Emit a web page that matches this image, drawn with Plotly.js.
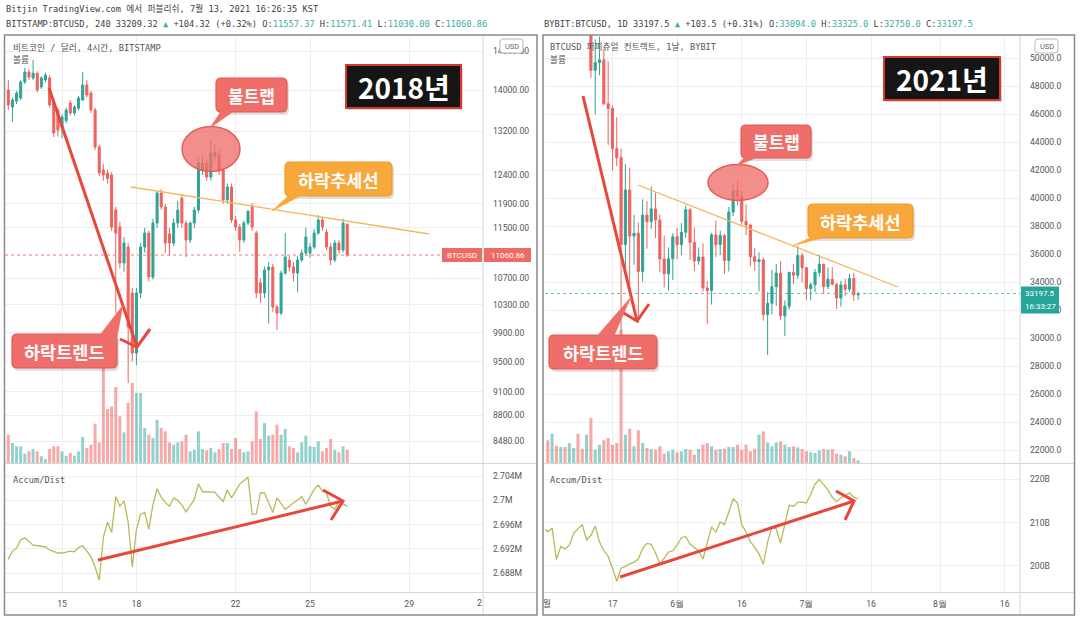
<!DOCTYPE html>
<html><head><meta charset="utf-8">
<script src="https://cdn.plot.ly/plotly-3.0.1.min.js"></script>
<style>html,body{margin:0;padding:0;background:#fff;}#chart{width:1080px;height:622px;}</style>
</head><body><div id="chart"></div>
<script>
// ================= DATA =================
// Left: BITSTAMP BTCUSD, 4h candles, Jan 2018
const leftStart = '2018-01-12T20:00:00';
const leftOpen  = [14000,13664,13780,13841,14161,14364,14242,14340,14060,14202,14242,13743,13606,13280,13400,13743,13548,13640,13801,14100,13940,13606,12906,12488,12435,12400,11795,11512,10935,11188,10476,9616,10476,11188,11414,10719,11578,12085,11846,11400,11252,11578,12000,11578,11300,11578,11795,12488,12614,12364,12740,12759,12488,11965,12189,11628,11512,11300,11578,11846,11414,10630,10476,10826,10873,10269,10181,10780,10982,10873,10780,10982,11092,11092,11188,11414,11628,11430,11188,10982,11252,11140,11557.37];
const leftHigh  = [14202,13850,13980,14200,14450,14420,14613,14380,14280,14350,14300,13800,13650,13520,13650,13800,13700,13880,14364,14200,13980,13650,12950,12600,12500,12450,11850,11600,11350,11250,10550,10550,11250,11500,11450,11650,12110,12150,11900,11500,11650,11950,12050,11620,11600,11850,12700,12750,12680,13035,12950,12850,12520,12250,12250,11700,11560,11620,11800,11913,11450,10700,10880,10950,10920,10300,10820,11414,11050,10950,11050,11150,11500,11250,11480,11710,11680,11480,11250,11300,11300,11650,11571.41];
const leftLow   = [13606,13375,13720,13800,14120,14200,14200,13950,14020,14150,13650,13091,13100,13070,13350,13500,13500,13600,13780,13850,13550,12850,12380,12300,12250,11450,10181,10850,10800,9213,9500,9453,10400,11100,10650,10680,11500,11800,11092,11050,11200,11500,11500,11029,11250,11500,11750,12400,12300,12300,12650,12400,11900,11900,11580,11450,11110,11250,11540,11450,10400,10330,10400,10030,10200,9937,10150,10750,10800,10650,10490,10950,11050,11020,11150,11380,11450,11140,10900,10950,11080,11100,11030.00];
const leftClose = [13703,13801,13940,14161,14364,14260,14340,14000,14242,14303,13703,13166,13223,13470,13606,13548,13664,13841,14100,13900,13606,12906,12435,12400,12340,11512,11414,10935,11252,9980,9616,10476,11188,11414,10719,11578,12085,11846,11252,11252,11578,11795,11578,11300,11578,11795,12614,12614,12364,12800,12800,12488,11965,12189,11628,11512,11300,11578,11770,11512,10476,10476,10826,10873,10269,10181,10780,11029,10873,10780,10982,11092,11350,11188,11414,11628,11512,11188,10982,11252,11140,11578,11060.86];
const leftVolume = [1700,1200,1000,1000,560,700,840,700,400,240,840,1000,1000,700,440,600,440,700,1560,900,1100,2360,1240,5700,3240,3400,4560,2800,1840,3600,4800,4200,4200,2100,1700,1500,2600,2100,1900,1240,1100,1240,1300,1700,700,800,1900,840,760,900,640,840,1200,1200,840,1500,840,640,700,1300,3100,1440,2400,1640,1700,2300,1700,2040,1000,900,640,1240,1640,1000,960,1300,700,900,1440,800,640,1000,800];
const leftAD = [2.6903,2.6916,2.6921,2.6935,2.6938,2.6932,2.6926,2.6925,2.6924,2.6923,2.6918,2.6916,2.6913,2.6913,2.6914,2.6916,2.6915,2.6922,2.6925,2.6916,2.6907,2.6890,2.6868,2.6939,2.6964,2.6947,2.7006,2.6990,2.6999,2.6964,2.6890,2.6952,2.6977,2.6980,2.6952,2.6993,2.7019,2.7005,2.6996,2.6990,2.7004,2.7000,2.6992,2.6981,2.6992,2.7001,2.7027,2.7014,2.7014,2.7014,2.7013,2.7005,2.6998,2.7017,2.7004,2.7015,2.7027,2.7032,2.7038,2.6977,2.6977,2.7012,2.7012,2.6996,2.6980,2.7004,2.6994,2.6985,2.6990,2.6996,2.7000,2.7006,2.6993,2.7005,2.7018,2.7025,2.7015,2.7012,2.6990,2.6985,2.6998,2.6994,2.6990];
const leftTickVals = ['2018-01-15','2018-01-18','2018-01-22','2018-01-25','2018-01-29'];
const leftTickText = ['15','18','22','25','29'];
const leftPriceTicks = [14800,14000,13200,12400,11900,11500,10700,10300,9900,9500,9100,8800,8480];
const leftADTicks = [2.704,2.700,2.696,2.692,2.688];
const leftADTickText = ['2.704M','2.7M','2.696M','2.692M','2.688M'];

// Right: BYBIT BTCUSD, daily candles, May 1 - Jul 13 2021
const rightStart = '2021-05-01T00:00:00';
const rightOpen  = [57700,57800,56580,57170,53200,57440,56400,57350,58850,58240,55850,56700,49150,49700,49900,46760,46430,43540,42900,36700,40600,37300,37500,34770,38800,38330,39240,38440,35660,34600,35680,37250,36690,37570,39190,36850,35520,35800,33590,33400,37390,36690,37340,35550,39020,40520,40140,38350,38090,35820,35480,35600,31680,32500,33680,34660,31590,32280,34700,34500,35910,35040,33540,33820,34700,35290,33690,34220,33860,32870,33810,33500,34260,33094.0];
const rightHigh  = [58450,57950,58980,57200,57930,58360,58650,59500,59300,59500,56870,58000,51370,51560,50700,49800,46640,45800,43550,42450,42200,38800,38270,39920,39800,40840,40400,38850,37330,36490,37500,37890,38230,39480,39290,37920,36480,36790,34070,37530,38400,37690,37440,39380,41060,41330,40530,39560,38200,36460,36140,35750,33300,34880,35300,35500,32700,34750,35300,36600,36100,35040,33980,34950,35950,35290,35050,35080,33910,34100,34260,34600,34670,33325.0];
const rightLow   = [57000,56000,56450,53000,52900,55200,55950,56900,56235,53400,54370,48600,46000,48800,46650,43825,42000,42300,30000,35000,33500,35250,31100,34030,36400,37800,37170,34700,33630,33380,34150,35660,35920,37170,35570,34800,35250,33330,31000,32400,35800,35930,34600,34760,38730,39510,38120,37370,35130,34820,33350,31250,28800,31700,32300,31280,30150,32050,33860,34230,34000,32710,32700,33300,34400,33150,33500,33770,32080,32260,33000,33320,32660,32750.0];
const rightClose = [57800,56580,57170,53200,57440,56400,57350,58850,58240,55850,56700,49150,49700,49900,46760,46430,43540,42900,36700,40600,37300,37500,34770,38800,38330,39240,38440,35660,34600,35680,37250,36690,37570,39190,36850,35520,35800,33590,33400,37390,36690,37340,35550,39020,40520,40140,38350,38090,35820,35480,35600,31680,32500,33680,34660,31590,32280,34700,34500,35910,35040,33540,33820,34700,35290,33690,34220,33860,32870,33810,33500,34260,33090,33197.5];
const rightVolume = [4000,6800,8800,5200,4800,4800,6000,4500,8800,4300,8500,13500,4000,5500,6800,7500,5500,6000,40000,8500,10300,5000,9800,6000,4500,4200,4000,5000,2800,3500,4000,3200,3500,4200,4000,2500,4200,5500,6000,5000,4000,4200,4300,4800,4800,5500,4000,5500,3500,4300,8500,9500,6200,5000,6200,6500,5500,4800,5000,4700,4200,3500,3200,3000,3800,4200,4000,4200,2800,2500,2000,3500,1500,800];
const rightAD = [208.7,207.9,208.7,201.5,204.5,203.9,204.8,207.5,208.6,209.5,206.0,207.0,209.2,205.5,203.5,202.2,199.5,196.5,199.5,199.9,200.5,200.9,201.6,204.0,205.2,205.0,203.0,200.5,201.8,203.2,203.5,204.8,206.5,206.8,205.0,204.2,203.5,201.6,205.5,209.0,207.8,210.1,209.5,212.5,215.4,214.5,209.5,207.8,205.6,204.3,202.8,200.4,205.5,209.0,208.5,205.3,209.5,214.0,213.7,214.7,214.7,214.5,216.5,218.8,219.9,218.8,217.5,215.8,214.8,215.7,216.3,216.8,215.8,215.4];
const rightTickVals = ['2021-05-17','2021-06-01','2021-06-16','2021-07-01','2021-07-16','2021-08-01','2021-08-16'];
const rightTickText = ['17','6월','16','7월','16','8월','16'];
const rightPriceTicks = [22000,24000,26000,28000,30000,32000,34000,36000,38000,40000,42000,44000,46000,48000,50000];
const rightADTicks = [200,210,220];
const rightADTickText = ['200B','210B','220B'];

// ================= HELPERS / STYLE =================
function addHours(base, h){ const d = new Date(Date.parse(base+'Z') + h*3600e3); return d.toISOString().slice(0,19).replace('T',' '); }
const leftTimes  = leftOpen.map((_,i)=>addHours(leftStart, 4*i));
const rightTimes = rightOpen.map((_,i)=>addHours(rightStart, 24*i));

const W=1080, H=622;
const PX = x => x/W, PY = y => 1 - y/H;
const UP='#2fa496', DOWN='#ee6360', VUP='rgba(38,166,154,0.5)', VDOWN='rgba(239,83,80,0.5)';
const AD_C='#b9b95a', GRID='#eeeeee', SEP='#d6d6d6';
const PANE_TOP=35, PANE_BOT=463, AD_TOP=464, AD_BOT=592;
const L_X0=5, L_X1=483, R_X0=545, R_X1=1020;
const LLOG_TOP=4.18024, LLOG_BOT=3.91481;
const RP_TOP=51679, RP_BOT=21071;
const leftPy = p => PANE_TOP + (LLOG_TOP - Math.log10(p))/(LLOG_TOP-LLOG_BOT)*(PANE_BOT-PANE_TOP);
const rightPy = p => PANE_TOP + (RP_TOP - p)/(RP_TOP-RP_BOT)*(PANE_BOT-PANE_TOP);

const tickF = {family:'Roboto, Liberation Sans, sans-serif', size:8.6, color:'#555'};
const MONO = 'DejaVu Sans Mono, Noto Sans CJK KR, monospace';
const KR = 'Noto Sans CJK KR, Noto Sans, sans-serif';

const shapes=[], anns=[];
const pt = (x,y)=> PX(x).toFixed(5)+','+PY(y).toFixed(5);
function rect(x0,y0,x1,y1,fill,line,lw){ shapes.push({type:'rect',xref:'paper',yref:'paper',x0:PX(x0),x1:PX(x1),y0:PY(y1),y1:PY(y0),fillcolor:fill,line:{color:line||'rgba(0,0,0,0)',width:lw||0},layer:'above'}); }
function line(x0,y0,x1,y1,color,w,dash){ shapes.push({type:'line',xref:'paper',yref:'paper',x0:PX(x0),x1:PX(x1),y0:PY(y0),y1:PY(y1),line:{color:color,width:w,dash:dash||'solid'},layer:'above'}); }
function path(d,fill,color,w){ shapes.push({type:'path',xref:'paper',yref:'paper',path:d,fillcolor:fill||'rgba(0,0,0,0)',line:{color:color||'rgba(0,0,0,0)',width:w||0},layer:'above'}); }
function rr(x0,y0,x1,y1,r){ return `M${pt(x0+r,y0)} L${pt(x1-r,y0)} Q${pt(x1,y0)} ${pt(x1,y0+r)} L${pt(x1,y1-r)} Q${pt(x1,y1)} ${pt(x1-r,y1)} L${pt(x0+r,y1)} Q${pt(x0,y1)} ${pt(x0,y1-r)} L${pt(x0,y0+r)} Q${pt(x0,y0)} ${pt(x0+r,y0)} Z`; }
function ellipse(cx,cy,rx,ry,fill,color){ shapes.push({type:'circle',xref:'paper',yref:'paper',x0:PX(cx-rx),x1:PX(cx+rx),y0:PY(cy+ry),y1:PY(cy-ry),fillcolor:fill,line:{color:color,width:1.5},layer:'above'}); }
function txt(x,y,text,size,color,family,xa,extra){ anns.push(Object.assign({xref:'paper',yref:'paper',x:PX(x),y:PY(y),text:text,showarrow:false,xanchor:xa||'left',yanchor:'middle',font:{family:family||MONO,size:size,color:color},borderpad:0},extra||{})); }
function callout(box,tail,label,fill,border,size){
  const [x0,y0,x1,y1]=box;
  path(rr(x0+2,y0+3,x1+2,y1+3,5),'rgba(0,0,0,0.12)');
  path(rr(x0,y0,x1,y1,5),fill,border,1.2);
  path(`M${pt(tail[0][0],tail[0][1])} L${pt(tail[1][0],tail[1][1])} L${pt(tail[2][0],tail[2][1])} Z`,fill,fill,0.5);
  txt((x0+x1)/2,(y0+y1)/2,'<b>'+label+'</b>',size,'#ffffff',KR,'center');
}
function arrow(x0,y0,x1,y1,a,b,color){
  line(x0,y0,x1,y1,color,3);
  path(`M${pt(a[0],a[1])} L${pt(x1,y1)} L${pt(b[0],b[1])}`,null,color,3);
}

// ================= TRACES =================
const leftVolColors = leftClose.map((c,i)=> c>=leftOpen[i]?VUP:VDOWN);
const rightVolColors = rightClose.map((c,i)=> c>=rightOpen[i]?VUP:VDOWN);
const candleStyle = {increasing:{line:{color:UP,width:1},fillcolor:UP},decreasing:{line:{color:DOWN,width:1},fillcolor:DOWN},whiskerwidth:0,hoverinfo:'skip'};
const traces = [
  {type:'bar',x:leftTimes,y:leftVolume,xaxis:'x',yaxis:'y',marker:{color:leftVolColors,line:{width:0}},width:0.72*4*3600e3,hoverinfo:'skip'},
  Object.assign({type:'candlestick',x:leftTimes,open:leftOpen,high:leftHigh,low:leftLow,close:leftClose,xaxis:'x',yaxis:'y3'},candleStyle),
  {type:'scatter',mode:'lines',x:leftTimes,y:leftAD,xaxis:'x',yaxis:'y2',line:{color:AD_C,width:1.3},hoverinfo:'skip'},
  {type:'bar',x:rightTimes,y:rightVolume,xaxis:'x2',yaxis:'y4',marker:{color:rightVolColors,line:{width:0}},width:0.72*24*3600e3,hoverinfo:'skip'},
  Object.assign({type:'candlestick',x:rightTimes,open:rightOpen,high:rightHigh,low:rightLow,close:rightClose,xaxis:'x2',yaxis:'y6'},candleStyle),
  {type:'scatter',mode:'lines',x:rightTimes,y:rightAD,xaxis:'x2',yaxis:'y5',line:{color:AD_C,width:1.3},hoverinfo:'skip'}
];

// ================= OVERLAY DRAWINGS =================
[[4.5,537],[543,1074.5]].forEach(([a,b],k)=>{
  const ax = k===0?L_X1:R_X1;
  line(ax,PANE_TOP,ax,615,SEP,1);
  line(a,463.5,b,463.5,SEP,1);
  line(a,592.5,b,592.5,SEP,1);
  rect(a,PANE_TOP,b,615,'rgba(0,0,0,0)','#8a8a8a',1.5);
});
const lLast = leftClose[leftClose.length-1], rLast = rightClose[rightClose.length-1];
const ly = leftPy(lLast), ry = rightPy(rLast);
line(L_X0,ly,L_X1,ly,'#ef7a76',1,'dot');
line(R_X0,ry,R_X1,ry,'#5cc0b4',1,'dot');
rect(442,ly-7,482,ly+7,'#ee6a66');
rect(484,ly-7,531,ly+7,'#ee6a66');
txt(462,ly,'BTCUSD',8,'#fff','Roboto, sans-serif','center');
txt(507.5,ly,lLast.toFixed(2),8,'#fff','Roboto, sans-serif','center');
rect(1021,ry-7,1059,ry+20,'#26a69a');
txt(1040,ry,rLast.toFixed(1),8,'#fff','Roboto, sans-serif','center');
txt(1040,ry+13,'16:33:27',8,'#fff','Roboto, sans-serif','center');
path(rr(500,39,523,53,3),'#ffffff','#b8b8b8',1);
txt(511.5,46,'USD',7.5,'#666','Roboto, sans-serif','center');
path(rr(1035,39,1058,53,3),'#ffffff','#b8b8b8',1);
txt(1046.5,46,'USD',7.5,'#666','Roboto, sans-serif','center');

line(131,187,429,234,'#f6b55a',1.3);
line(638,185,898,287,'#f6b55a',1.3);
ellipse(211,149,29,22.5,'rgba(240,112,106,0.78)','#e3605a');
ellipse(738,182.5,30,18,'rgba(240,112,106,0.78)','#e3605a');
arrow(49,88,137,347,[120,339],[150,329],'#e8483b');
arrow(98,560,343,501,[323,490],[331,520],'#e8483b');
arrow(583,96,637,321,[622,312],[649,304],'#e8483b');
arrow(620,577,854,501,[836,491],[845,520],'#e8483b');
callout([216,78,287,112],[[221,111],[234,111],[210,128]],'불트랩','#ef6e69','#e05a55',17);
callout([285,162,392,196],[[289,195],[302,195],[272,211]],'하락추세선','#f8a83a','#f29a24',17.5);
callout([12,334,117,368],[[100,335],[116,343],[123,305]],'하락트렌드','#ef6e69','#e05a55',17.5);
callout([741,125,811,158],[[745,157],[758,157],[736,166]],'불트랩','#ef6e69','#e05a55',17);
callout([808,204,913,238],[[812,237],[826,237],[792,246]],'하락추세선','#f8a83a','#f29a24',17.5);
callout([549,335,657,369],[[597,336],[614,336],[631,297]],'하락트렌드','#ef6e69','#e05a55',17.5);
rect(348,67,463,110,'rgba(0,0,0,0.15)');
rect(346,65,461,108,'#151515','#d9382e',2);
txt(403.5,86.5,'<b>2018년</b>',28,'#ffffff',KR,'center');
rect(886,59,1002,102,'rgba(0,0,0,0.15)');
rect(884,57,1000,100,'#151515','#d9382e',2);
txt(942,78.5,'<b>2021년</b>',28,'#ffffff',KR,'center');

const TEAL='#3aaea1', HC='#3f3f3f';
const sp = (s)=>`<span style="color:${TEAL}">${s}</span>`;
const lI = leftClose.length-1, rI = rightClose.length-1;
txt(5,9,'Bitjin TradingView.com 에서 퍼블리쉬, 7월 13, 2021 16:26:35 KST',8.7,HC);
txt(5,24,`BITSTAMP:BTCUSD, 240 33209.32 ${sp('▲')} +104.32 (+0.32%) O:${sp(leftOpen[lI].toFixed(2))} H:${sp(leftHigh[lI].toFixed(2))} L:${sp(leftLow[lI].toFixed(2))} C:${sp(leftClose[lI].toFixed(2))}`,8.7,HC);
txt(543,24,`BYBIT:BTCUSD, 1D 33197.5 ${sp('▲')} +103.5 (+0.31%) O:${sp(rightOpen[rI].toFixed(1))} H:${sp(rightHigh[rI].toFixed(1))} L:${sp(rightLow[rI].toFixed(1))} C:${sp(rightClose[rI].toFixed(1))}`,8.7,HC);
txt(12,47,'비트코인 / 달러, 4시간, BITSTAMP',8.7,'#555');
txt(12,60,'볼륨',8.7,'#555');
txt(549,47,'BTCUSD 퍼피츄얼 컨트랙트, 1날, BYBIT',8.7,'#555');
txt(549,60,'볼륨',8.7,'#555');
txt(12,480,'Accum/Dist',8.7,'#555');
txt(549,480,'Accum/Dist',8.7,'#555');
txt(479,603,'2',8.6,'#555','Roboto, sans-serif','center');
txt(547,603,'월',8.6,'#555','Noto Sans CJK KR, sans-serif','center');

// ================= LAYOUT =================
const lpxHour = 4.133/4;
const LX0 = addHours(leftStart, (L_X0-8.3)/lpxHour), LX1 = addHours(leftStart, (L_X1-8.3)/lpxHour);
const rpxDay = 4.31;
const RX0 = addHours(rightStart, 24*(R_X0-543.5)/rpxDay), RX1 = addHours(rightStart, 24*(R_X1-543.5)/rpxDay);
const xBase = {type:'date',tickmode:'array',showgrid:true,gridcolor:GRID,gridwidth:1,zeroline:false,showline:false,ticks:'',tickfont:tickF,ticklabelstandoff:5,rangeslider:{visible:false},fixedrange:true};
const yBase = {side:'right',tickmode:'array',showgrid:true,gridcolor:GRID,gridwidth:1,zeroline:false,showline:false,ticks:'',tickfont:tickF,ticklabelstandoff:9,fixedrange:true};
const priceDom=[PY(PANE_BOT),PY(PANE_TOP)], adDom=[PY(AD_BOT),PY(AD_TOP)];
const layout = {
  width:W,height:H,margin:{l:0,r:0,t:0,b:0},paper_bgcolor:'#ffffff',plot_bgcolor:'rgba(0,0,0,0)',showlegend:false,hovermode:false,dragmode:false,
  xaxis:Object.assign({},xBase,{domain:[PX(L_X0),PX(L_X1)],anchor:'y2',range:[LX0,LX1],tickvals:leftTickVals,ticktext:leftTickText}),
  yaxis:{domain:priceDom,anchor:'x',range:[0,(PANE_BOT-PANE_TOP)*60],visible:false,fixedrange:true},
  yaxis2:Object.assign({},yBase,{domain:adDom,anchor:'x',range:[2.68487,2.70598],tickvals:leftADTicks,ticktext:leftADTickText}),
  yaxis3:Object.assign({},yBase,{overlaying:'y',anchor:'x',type:'log',range:[LLOG_BOT,LLOG_TOP],tickvals:leftPriceTicks,ticktext:leftPriceTicks.map(v=>v.toFixed(2))}),
  xaxis2:Object.assign({},xBase,{domain:[PX(R_X0),PX(R_X1)],anchor:'y5',range:[RX0,RX1],tickvals:rightTickVals,ticktext:rightTickText}),
  yaxis4:{domain:priceDom,anchor:'x2',range:[0,(PANE_BOT-PANE_TOP)*300],visible:false,fixedrange:true},
  yaxis5:Object.assign({},yBase,{domain:adDom,anchor:'x2',range:[194.02,223.45],tickvals:rightADTicks,ticktext:rightADTickText}),
  yaxis6:Object.assign({},yBase,{overlaying:'y4',anchor:'x2',range:[RP_BOT,RP_TOP],tickvals:rightPriceTicks,ticktext:rightPriceTicks.map(v=>v.toFixed(1))}),
  shapes:shapes,annotations:anns
};
Plotly.newPlot('chart',traces,layout,{staticPlot:true,displayModeBar:false});
</script></body></html>
